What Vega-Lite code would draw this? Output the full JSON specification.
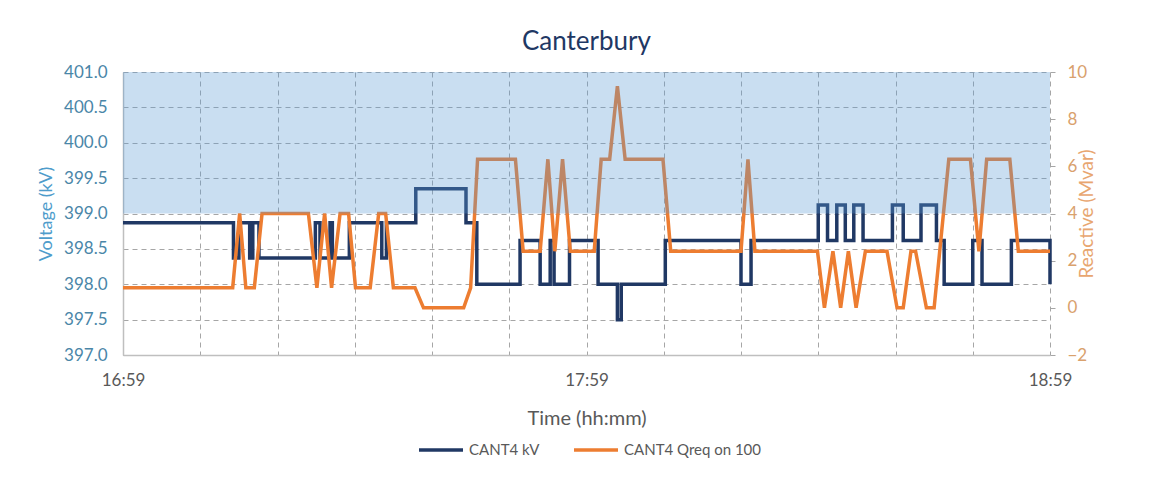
{
  "$schema": "https://vega.github.io/schema/vega-lite/v6.json",
  "width": 927,
  "height": 283,
  "autosize": {"type": "none"},
  "padding": {"left": 123, "top": 72, "right": 118, "bottom": 122},
  "background": "white",
  "title": {"text": "Canterbury", "fontSize": 26, "color": "#1F3864", "font": "Lato", "fontWeight": "normal", "offset": 8, "anchor": "middle"},
  "config": {
    "view": {"stroke": null},
    "font": "Lato",
    "legend": {"orient": "none", "legendX": 294, "legendY": 354, "direction": "horizontal", "symbolType": "stroke", "symbolSize": 1936, "symbolStrokeWidth": 3.5, "labelFontSize": 15, "labelColor": "#595959", "columnPadding": 27, "title": null, "labelFont": "Lato"}
  },
  "datasets": {
    "kv": [
      {"min": 0, "kV": 398.87}, {"min": 14.3, "kV": 398.37}, {"min": 15.0, "kV": 398.87}, {"min": 16.4, "kV": 398.37},
      {"min": 16.8, "kV": 398.87}, {"min": 17.6, "kV": 398.37}, {"min": 24.9, "kV": 398.87}, {"min": 25.5, "kV": 398.37},
      {"min": 26.8, "kV": 398.87}, {"min": 27.1, "kV": 398.37}, {"min": 29.3, "kV": 398.87}, {"min": 33.5, "kV": 398.37},
      {"min": 34.1, "kV": 398.87}, {"min": 37.9, "kV": 399.35}, {"min": 44.4, "kV": 398.87}, {"min": 45.8, "kV": 398.0},
      {"min": 51.4, "kV": 398.62}, {"min": 54.0, "kV": 398.0}, {"min": 55.3, "kV": 398.62}, {"min": 55.8, "kV": 398.0},
      {"min": 57.8, "kV": 398.62}, {"min": 61.5, "kV": 398.0}, {"min": 64.0, "kV": 397.5}, {"min": 64.5, "kV": 398.0},
      {"min": 70.2, "kV": 398.62}, {"min": 80.0, "kV": 398.0}, {"min": 81.3, "kV": 398.62}, {"min": 90.0, "kV": 399.12},
      {"min": 91.2, "kV": 398.62}, {"min": 92.4, "kV": 399.12}, {"min": 93.5, "kV": 398.62}, {"min": 94.6, "kV": 399.12},
      {"min": 95.8, "kV": 398.62}, {"min": 99.6, "kV": 399.12}, {"min": 101.0, "kV": 398.62}, {"min": 103.3, "kV": 399.12},
      {"min": 105.3, "kV": 398.62}, {"min": 106.3, "kV": 398.0}, {"min": 110.0, "kV": 398.62}, {"min": 111.2, "kV": 398.0},
      {"min": 115.0, "kV": 398.62}, {"min": 120, "kV": 398.0}
    ],
    "q": [
      {"min": 0, "Mvar": 0.85}, {"min": 14.2, "Mvar": 0.85}, {"min": 15.1, "Mvar": 4.0}, {"min": 15.9, "Mvar": 0.85},
      {"min": 17.0, "Mvar": 0.85}, {"min": 18.0, "Mvar": 4.0}, {"min": 24.0, "Mvar": 4.0}, {"min": 25.1, "Mvar": 0.85},
      {"min": 26.1, "Mvar": 4.0}, {"min": 27.0, "Mvar": 0.85}, {"min": 28.1, "Mvar": 4.0}, {"min": 29.2, "Mvar": 4.0},
      {"min": 30.1, "Mvar": 0.85}, {"min": 32.0, "Mvar": 0.85}, {"min": 33.1, "Mvar": 4.0}, {"min": 34.0, "Mvar": 4.0},
      {"min": 35.0, "Mvar": 0.85}, {"min": 37.8, "Mvar": 0.85}, {"min": 38.9, "Mvar": 0.0}, {"min": 44.1, "Mvar": 0.0},
      {"min": 45.0, "Mvar": 0.85}, {"min": 45.9, "Mvar": 6.3}, {"min": 50.8, "Mvar": 6.3}, {"min": 51.8, "Mvar": 2.4},
      {"min": 54.0, "Mvar": 2.4}, {"min": 55.0, "Mvar": 6.3}, {"min": 55.9, "Mvar": 2.4}, {"min": 56.9, "Mvar": 6.3},
      {"min": 57.9, "Mvar": 2.4}, {"min": 61.0, "Mvar": 2.4}, {"min": 61.9, "Mvar": 6.3}, {"min": 63.0, "Mvar": 6.3},
      {"min": 64.0, "Mvar": 9.4}, {"min": 65.0, "Mvar": 6.3}, {"min": 69.9, "Mvar": 6.3}, {"min": 70.9, "Mvar": 2.4},
      {"min": 80.0, "Mvar": 2.4}, {"min": 80.9, "Mvar": 6.3}, {"min": 81.8, "Mvar": 2.4}, {"min": 89.9, "Mvar": 2.4},
      {"min": 90.8, "Mvar": 0.0}, {"min": 91.9, "Mvar": 2.4}, {"min": 92.9, "Mvar": 0.0}, {"min": 93.9, "Mvar": 2.4},
      {"min": 94.9, "Mvar": 0.0}, {"min": 96.1, "Mvar": 2.4}, {"min": 98.9, "Mvar": 2.4}, {"min": 100.2, "Mvar": 0.0},
      {"min": 101.0, "Mvar": 0.0}, {"min": 102.0, "Mvar": 2.4}, {"min": 102.6, "Mvar": 2.4}, {"min": 104.0, "Mvar": 0.0},
      {"min": 105.0, "Mvar": 0.0}, {"min": 106.9, "Mvar": 6.3}, {"min": 109.7, "Mvar": 6.3}, {"min": 110.8, "Mvar": 2.4},
      {"min": 111.8, "Mvar": 6.3}, {"min": 114.8, "Mvar": 6.3}, {"min": 115.9, "Mvar": 2.4}, {"min": 120, "Mvar": 2.4}
    ],
    "band": [{"x0": 0, "x1": 120, "lo": 399.0, "hi": 401.0}]
  },
  "layer": [
    {
      "data": {"name": "kv"},
      "mark": {"type": "line", "interpolate": "step-after", "strokeWidth": 3.5},
      "encoding": {
        "x": {"field": "min", "type": "quantitative", "scale": {"domain": [0, 120], "nice": false},
          "axis": {"values": [0, 10, 20, 30, 40, 50, 60, 70, 80, 90, 100, 110, 120],
            "labelExpr": "datum.value == 0 ? '16:59' : datum.value == 60 ? '17:59' : datum.value == 120 ? '18:59' : ''",
            "labelFlush": false,
            "title": "Time (hh:mm)", "titleColor": "#595959", "titleFontSize": 20, "titleFontWeight": "normal", "titlePadding": 20,
            "labelColor": "#595959", "labelFontSize": 17, "labelPadding": 17, "ticks": false,
            "domainColor": "#bfbfbf", "domainWidth": 1.5, "grid": true, "gridColor": "#a6a6a6", "gridDash": [5, 4], "gridWidth": 1}},
        "y": {"field": "kV", "type": "quantitative", "scale": {"domain": [397, 401], "nice": false, "zero": false},
          "axis": {"orient": "left", "values": [397, 397.5, 398, 398.5, 399, 399.5, 400, 400.5, 401], "format": ".1f",
            "title": "Voltage (kV)", "titleColor": "#4E9CCB", "titleFontSize": 18, "titleFontWeight": "normal", "titlePadding": 8,
            "labelColor": "#4A86A8", "labelFontSize": 17, "labelPadding": 16, "ticks": false,
            "domainColor": "#bfbfbf", "domainWidth": 1.5, "grid": true, "gridColor": "#a6a6a6", "gridDash": [5, 4], "gridWidth": 1}},
        "color": {"datum": "CANT4 kV", "type": "nominal",
          "scale": {"domain": ["CANT4 kV", "CANT4 Qreq on 100"], "range": ["#203864", "#ED7D31"]}}
      }
    },
    {
      "data": {"name": "q"},
      "mark": {"type": "line", "strokeWidth": 3.5},
      "encoding": {
        "x": {"field": "min", "type": "quantitative"},
        "y": {"field": "Mvar", "type": "quantitative", "scale": {"domain": [-2, 10], "nice": false, "zero": false},
          "axis": {"orient": "right", "values": [-2, 0, 2, 4, 6, 8, 10],
            "title": "Reactive (Mvar)", "titleColor": "#E8A670", "titleFontSize": 19, "titleFontWeight": "normal", "titleAngle": 270, "titlePadding": 10,
            "labelColor": "#D9A16D", "labelFontSize": 17, "labelPadding": 12, "ticks": true, "tickColor": "#a6a6a6", "tickSize": 5,
            "domain": false, "grid": false}},
        "color": {"datum": "CANT4 Qreq on 100", "type": "nominal"}
      }
    },
    {
      "data": {"name": "band"},
      "mark": {"type": "rect", "color": "#5B9BD5", "opacity": 0.33},
      "encoding": {
        "x": {"field": "x0", "type": "quantitative"},
        "x2": {"field": "x1"},
        "y": {"field": "lo", "type": "quantitative", "scale": {"domain": [397, 401], "nice": false, "zero": false}, "axis": null},
        "y2": {"field": "hi"}
      }
    }
  ],
  "resolve": {"scale": {"y": "independent"}}
}
